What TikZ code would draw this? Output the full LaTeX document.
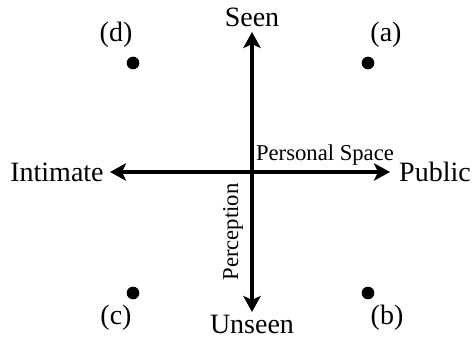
\documentclass[tikz,border=0pt]{standalone}
\usepackage{fontspec}
\setmainfont{Liberation Serif}
\usetikzlibrary{arrows.meta}

\begin{document}
\begin{tikzpicture}[
    x=0.75pt, y=-0.75pt,
    axis/.style={line width=3pt, -{Stealth[length=12pt, width=13pt, inset=3pt]}},
    pole/.style={font=\fontsize{21}{24}\selectfont, inner sep=0pt},
    axislabel/.style={font=\fontsize{17}{20}\selectfont, inner sep=0pt},
    spot/.style={circle, fill=black, minimum size=9.5pt, inner sep=0pt},
    quadrant/.style={font=\fontsize{21}{24}\selectfont, inner sep=0pt}
]
    \useasboundingbox (0,0) rectangle (474,341);
    % axes
    \coordinate (o) at (252,172);
    \coordinate (top) at (252,32);
    \coordinate (bottom) at (252,312);
    \coordinate (left) at (110,172);
    \coordinate (right) at (390,172);
    \draw[axis] (o) -- (top);
    \draw[axis] (o) -- (bottom);
    \draw[axis] (o) -- (left);
    \draw[axis] (o) -- (right);
    % ends
    \node[pole] (seen) at (252,17) {Seen};
    \node[pole, anchor=base] (unseen) at (252,334) {Unseen};
    \node[pole] (intimate) at (57,172) {Intimate};
    \node[pole] (public) at (435,172) {Public};
    % axis names
    \node[axislabel] (space) at (325,155) {Personal Space};
    \node[axislabel, rotate=90] (perception) at (233,232) {Perception};
    % quadrants
    \node[spot] (a) at (368,63) {};
    \node[spot] (b) at (368,293) {};
    \node[spot] (c) at (133,293) {};
    \node[spot] (d) at (133,63) {};
    \node[quadrant] (la) at (386,35) {(a)};
    \node[quadrant] (lb) at (387,318) {(b)};
    \node[quadrant] (lc) at (116,318) {(c)};
    \node[quadrant] (ld) at (116,35) {(d)};
\end{tikzpicture}
\end{document}
